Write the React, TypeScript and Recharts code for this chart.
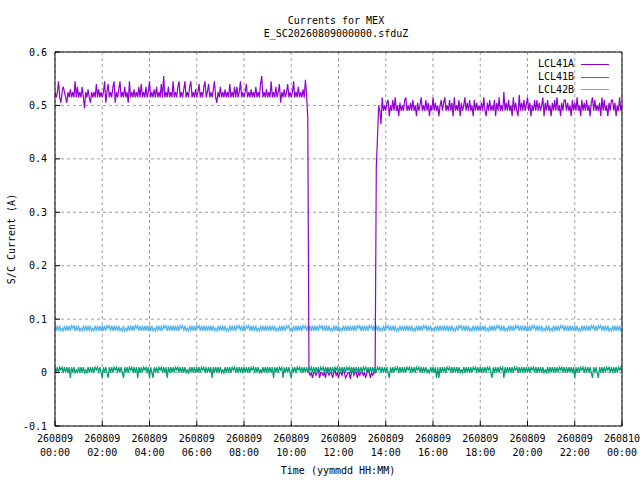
import React from "react";
import { LineChart, Line, XAxis, YAxis, CartesianGrid } from "recharts";

const FONT = '"DejaVu Sans Mono", monospace';

// one sample every 3 minutes, 00:00 .. 24:00 (20 per hour, 481 samples)
const SAMPLE_STEP_MIN = 3;

const hourTicks = [0, 2, 4, 6, 8, 10, 12, 14, 16, 18, 20, 22, 24];
const dateLabels = ["260809", "260809", "260809", "260809", "260809", "260809", "260809", "260809", "260809", "260809", "260809", "260809", "260810"];
const timeLabels = ["00:00", "02:00", "04:00", "06:00", "08:00", "10:00", "12:00", "14:00", "16:00", "18:00", "20:00", "22:00", "00:00"];
const currentTicks = [-0.1, 0, 0.1, 0.2, 0.3, 0.4, 0.5, 0.6];
const currentLabels = ["-0.1", "0", "0.1", "0.2", "0.3", "0.4", "0.5", "0.6"];

const lcl41a = [
  0.525, 0.515, 0.525, 0.545, 0.515, 0.505, 0.525, 0.535, 0.525, 0.515, 0.505, 0.525, 0.515, 0.53, 0.515, 0.525, 0.515, 0.545, 0.515, 0.535,
  0.515, 0.525, 0.515, 0.535, 0.515, 0.495, 0.525, 0.515, 0.53, 0.515, 0.505, 0.525, 0.515, 0.525, 0.515, 0.54, 0.515, 0.53, 0.515, 0.525,
  0.515, 0.525, 0.545, 0.505, 0.525, 0.54, 0.515, 0.525, 0.515, 0.535, 0.545, 0.505, 0.525, 0.515, 0.53, 0.545, 0.515, 0.525, 0.515, 0.535,
  0.515, 0.525, 0.505, 0.545, 0.515, 0.525, 0.515, 0.53, 0.515, 0.525, 0.515, 0.535, 0.515, 0.54, 0.515, 0.525, 0.515, 0.535, 0.515, 0.525,
  0.545, 0.515, 0.525, 0.515, 0.53, 0.515, 0.535, 0.515, 0.525, 0.515, 0.54, 0.515, 0.555, 0.515, 0.525, 0.515, 0.535, 0.515, 0.525, 0.515,
  0.545, 0.515, 0.525, 0.515, 0.535, 0.545, 0.515, 0.525, 0.515, 0.53, 0.545, 0.515, 0.525, 0.515, 0.535, 0.545, 0.515, 0.525, 0.515, 0.53,
  0.515, 0.525, 0.54, 0.515, 0.525, 0.515, 0.535, 0.545, 0.515, 0.525, 0.54, 0.515, 0.525, 0.515, 0.53, 0.545, 0.515, 0.505, 0.525, 0.515,
  0.535, 0.515, 0.525, 0.515, 0.53, 0.515, 0.525, 0.515, 0.54, 0.515, 0.525, 0.515, 0.535, 0.515, 0.535, 0.515, 0.525, 0.545, 0.515, 0.525,
  0.515, 0.525, 0.54, 0.515, 0.525, 0.515, 0.53, 0.515, 0.525, 0.515, 0.535, 0.515, 0.525, 0.515, 0.54, 0.555, 0.515, 0.525, 0.515, 0.53,
  0.515, 0.525, 0.515, 0.545, 0.515, 0.525, 0.515, 0.535, 0.515, 0.525, 0.54, 0.505, 0.525, 0.515, 0.53, 0.515, 0.525, 0.54, 0.515, 0.525,
  0.515, 0.525, 0.545, 0.515, 0.525, 0.515, 0.535, 0.515, 0.525, 0.515, 0.53, 0.515, 0.548, 0.52, 0.475, 0, -0.005, 0, -0.01, 0,
  0, -0.005, 0, 0.005, -0.01, 0, 0, -0.005, 0, -0.01, 0.005, 0, -0.005, 0, 0, -0.01, 0, 0.005, -0.005, 0,
  -0.01, 0, 0, -0.005, 0.005, 0, -0.01, -0.005, 0, 0, -0.012, 0, 0.005, -0.005, 0, 0, -0.01, 0, -0.005, 0,
  0, -0.005, 0, -0.01, 0, 0.005, 0, -0.01, 0, -0.005, 0, 0, 0.385, 0.44, 0.5, 0.49, 0.465, 0.515, 0.49, 0.5,
  0.49, 0.505, 0.51, 0.48, 0.5, 0.49, 0.51, 0.49, 0.515, 0.49, 0.5, 0.48, 0.505, 0.49, 0.5, 0.49, 0.51, 0.515, 0.49, 0.5,
  0.49, 0.505, 0.49, 0.51, 0.49, 0.5, 0.48, 0.505, 0.49, 0.5, 0.515, 0.49, 0.5, 0.49, 0.51, 0.49, 0.505, 0.48, 0.5, 0.49,
  0.515, 0.49, 0.505, 0.49, 0.5, 0.48, 0.5, 0.51, 0.49, 0.505, 0.515, 0.49, 0.5, 0.49, 0.51, 0.49, 0.505, 0.48, 0.515, 0.49,
  0.5, 0.49, 0.51, 0.48, 0.505, 0.49, 0.5, 0.515, 0.49, 0.505, 0.49, 0.51, 0.49, 0.5, 0.48, 0.51, 0.49, 0.505, 0.49, 0.5,
  0.49, 0.505, 0.49, 0.515, 0.49, 0.48, 0.505, 0.49, 0.51, 0.49, 0.5, 0.49, 0.51, 0.48, 0.505, 0.49, 0.515, 0.49, 0.5, 0.49,
  0.525, 0.49, 0.505, 0.49, 0.51, 0.49, 0.5, 0.48, 0.515, 0.49, 0.505, 0.49, 0.48, 0.52, 0.49, 0.505, 0.49, 0.51, 0.49, 0.5,
  0.515, 0.49, 0.505, 0.48, 0.5, 0.49, 0.51, 0.49, 0.51, 0.49, 0.505, 0.49, 0.5, 0.515, 0.48, 0.505, 0.49, 0.51, 0.49, 0.5,
  0.48, 0.505, 0.49, 0.51, 0.49, 0.515, 0.49, 0.5, 0.48, 0.505, 0.49, 0.51, 0.51, 0.49, 0.505, 0.49, 0.5, 0.48, 0.51, 0.49,
  0.505, 0.49, 0.515, 0.49, 0.5, 0.48, 0.51, 0.49, 0.505, 0.49, 0.51, 0.49, 0.5, 0.48, 0.505, 0.515, 0.49, 0.51, 0.49, 0.5,
  0.49, 0.505, 0.48, 0.515, 0.49, 0.51, 0.49, 0.5, 0.48, 0.505, 0.49, 0.51, 0.51, 0.49, 0.505, 0.48, 0.5, 0.49, 0.515, 0.49,
  0.5,
];

const lcl41b = [
  0.01, 0, 0.01, 0, 0.01, 0.005, 0.01, 0, 0.01, 0, 0.01, 0, 0.01, -0.01, 0.01, 0, 0.01, 0, 0.005, 0,
  0.01, 0, 0.01, 0, 0.01, 0, 0.005, 0, 0.01, 0, 0.01, 0, 0.01, 0, 0.01, 0.005, 0.01, 0, 0.01, 0,
  -0.01, 0.01, 0, 0.01, 0, -0.01, 0.01, 0, 0.01, 0, 0.01, 0.005, 0.01, 0, 0.01, 0, 0.01, 0, -0.01, 0.01,
  0, 0.01, 0, 0.01, 0.005, 0.01, 0, 0.01, 0, 0.01, -0.01, 0.01, 0, 0.01, 0, 0.01, 0.005, 0.01, 0, 0.01,
  -0.01, 0.01, 0, -0.01, 0.01, 0, 0.01, 0, 0.01, 0.005, 0.01, 0, 0.01, 0, 0.01, -0.01, 0.01, 0, 0.01, 0,
  0.01, 0, 0.01, 0.005, 0.01, 0, 0.01, 0, 0.01, 0, 0.01, 0, 0.005, 0, 0.01, 0, 0.01, 0, 0.01, 0,
  0.01, 0, 0.01, 0, 0.01, 0.005, 0.01, 0, 0.01, 0, 0.01, 0, 0.01, -0.01, 0.01, 0, 0.01, 0, 0.01, 0,
  0.01, 0, 0.005, 0, 0.01, 0, 0.01, 0, 0.01, 0, 0.01, 0.005, 0.01, 0, 0.01, 0, 0.01, 0, 0.01, 0,
  0.01, 0, 0.01, 0, 0.01, 0, 0.01, 0.005, 0.01, 0, 0.01, 0, 0.01, 0, 0.005, 0, 0.01, 0, 0.01, 0,
  0.01, 0, 0.01, 0, 0.01, -0.01, 0.01, 0, 0.01, 0, 0.01, 0.005, 0.01, -0.01, 0.01, 0, 0.01, 0, 0.01, 0,
  -0.01, 0.01, 0, 0.01, 0, 0.01, 0.005, 0.01, 0, 0.01, 0, 0.01, 0, 0.01, 0, 0.01, 0.005, 0.01, 0, 0.01,
  0, 0.01, 0, 0.01, 0, 0.01, 0.005, 0.01, 0, 0.01, 0, 0.01, 0, 0.01, 0, 0.01, 0, 0.01, 0.005, 0.01,
  0, 0.01, 0, 0.01, 0, 0.01, 0, 0.01, 0.005, 0.01, 0, 0.01, 0, 0.01, 0, 0.01, 0, 0.01, 0, 0.01,
  0, 0.01, 0.005, 0.01, 0, 0.01, 0, 0.01, 0, 0.01, 0, 0.01, 0, 0.01, 0.005, 0.01, 0, 0.01, 0, 0.01,
  0, 0.01, 0, -0.01, 0.01, 0, 0.01, 0, 0.01, 0.005, 0.01, 0, 0.01, 0, 0.01, 0, 0.01, 0, 0.01, 0.005,
  0.01, 0, 0.01, 0, 0.01, 0, 0.01, 0.005, 0.01, 0, 0.01, 0, 0.01, 0, 0.01, 0, 0.005, 0, 0.01, 0,
  0.01, 0, 0.01, -0.01, 0.01, -0.01, 0.01, 0, 0.01, 0, 0.01, 0, 0.01, 0.005, 0.01, 0, 0.01, 0, 0.01, 0,
  0.01, 0, 0.01, 0, 0.005, 0, 0.01, 0, 0.01, 0, 0.01, 0, 0.01, 0, 0.01, 0.005, 0.01, 0, 0.01, 0,
  0.01, 0, 0.01, 0, 0.01, 0, 0.01, 0.005, 0.01, 0, -0.01, 0.01, 0, 0.01, 0, 0.01, 0, 0.01, 0.005, 0.01,
  -0.01, 0.01, 0, 0.01, 0, 0.01, 0, 0.01, 0, 0.01, 0.005, 0.01, 0, 0.01, 0, 0.01, 0, 0.01, 0, 0.01,
  0, 0.01, 0, 0.01, 0.005, 0.01, 0, 0.01, 0, 0.01, 0, 0.01, 0, 0.01, 0, 0.005, 0, 0.01, 0, 0.01,
  0, 0.01, 0, 0.01, 0, 0.01, 0, 0.01, 0.005, 0.01, 0, 0.01, 0, 0.01, 0, 0.01, 0, 0.01, 0, 0.01,
  -0.01, 0.01, 0, 0.01, 0, 0.01, 0.005, 0.01, 0, 0.01, 0, 0.01, 0, 0.01, 0, -0.01, 0.01, 0, 0.01, 0,
  -0.01, 0.01, 0, 0.01, 0, 0.01, 0, 0.01, 0.005, 0.01, 0, 0.01, 0, 0.01, 0, 0.01, 0, 0.01, 0.005, 0.01,
  0,
];

const lcl42b = [
  0.088, 0.078, 0.088, 0.078, 0.088, 0.078, 0.083, 0.078, 0.088, 0.078, 0.088, 0.078, 0.088, 0.078, 0.088, 0.083, 0.088, 0.078, 0.088, 0.078,
  0.088, 0.078, 0.083, 0.078, 0.088, 0.078, 0.088, 0.078, 0.088, 0.078, 0.088, 0.078, 0.083, 0.078, 0.088, 0.078, 0.088, 0.078, 0.088, 0.078,
  0.088, 0.078, 0.088, 0.078, 0.088, 0.083, 0.088, 0.078, 0.088, 0.078, 0.088, 0.078, 0.088, 0.078, 0.088, 0.078, 0.083, 0.078, 0.088, 0.078,
  0.083, 0.078, 0.088, 0.078, 0.088, 0.078, 0.088, 0.078, 0.088, 0.083, 0.088, 0.078, 0.088, 0.078, 0.088, 0.078, 0.088, 0.078, 0.088, 0.078,
  0.088, 0.078, 0.088, 0.078, 0.083, 0.078, 0.088, 0.078, 0.088, 0.078, 0.088, 0.078, 0.088, 0.083, 0.088, 0.078, 0.088, 0.078, 0.088, 0.078,
  0.088, 0.078, 0.088, 0.078, 0.088, 0.078, 0.088, 0.083, 0.088, 0.078, 0.088, 0.078, 0.083, 0.078, 0.088, 0.078, 0.088, 0.078, 0.088, 0.078,
  0.088, 0.083, 0.088, 0.078, 0.088, 0.078, 0.088, 0.078, 0.088, 0.078, 0.088, 0.078, 0.088, 0.078, 0.088, 0.078, 0.083, 0.078, 0.088, 0.078,
  0.088, 0.078, 0.088, 0.078, 0.088, 0.078, 0.083, 0.078, 0.088, 0.078, 0.088, 0.078, 0.088, 0.078, 0.088, 0.083, 0.088, 0.078, 0.088, 0.078,
  0.088, 0.078, 0.088, 0.083, 0.088, 0.078, 0.088, 0.078, 0.088, 0.078, 0.088, 0.078, 0.083, 0.078, 0.088, 0.078, 0.088, 0.078, 0.088, 0.078,
  0.088, 0.078, 0.088, 0.078, 0.088, 0.078, 0.088, 0.078, 0.083, 0.078, 0.088, 0.078, 0.088, 0.078, 0.088, 0.078, 0.088, 0.083, 0.088, 0.078,
  0.083, 0.078, 0.088, 0.078, 0.088, 0.078, 0.088, 0.078, 0.088, 0.078, 0.088, 0.083, 0.088, 0.078, 0.088, 0.078, 0.088, 0.078, 0.088, 0.078,
  0.088, 0.078, 0.088, 0.078, 0.088, 0.083, 0.088, 0.078, 0.088, 0.078, 0.088, 0.078, 0.088, 0.078, 0.083, 0.078, 0.088, 0.078, 0.088, 0.078,
  0.088, 0.078, 0.083, 0.078, 0.088, 0.078, 0.088, 0.078, 0.088, 0.078, 0.088, 0.078, 0.088, 0.078, 0.088, 0.078, 0.088, 0.083, 0.088, 0.078,
  0.088, 0.078, 0.088, 0.078, 0.088, 0.078, 0.088, 0.083, 0.088, 0.078, 0.088, 0.078, 0.088, 0.078, 0.088, 0.078, 0.083, 0.078, 0.088, 0.078,
  0.088, 0.083, 0.088, 0.078, 0.088, 0.078, 0.088, 0.078, 0.088, 0.078, 0.083, 0.078, 0.088, 0.078, 0.088, 0.078, 0.088, 0.078, 0.088, 0.078,
  0.088, 0.078, 0.088, 0.078, 0.083, 0.078, 0.088, 0.078, 0.088, 0.078, 0.088, 0.078, 0.088, 0.083, 0.088, 0.078, 0.088, 0.078, 0.088, 0.078,
  0.083, 0.078, 0.088, 0.078, 0.088, 0.078, 0.088, 0.078, 0.088, 0.078, 0.088, 0.078, 0.088, 0.078, 0.088, 0.078, 0.088, 0.078, 0.083, 0.078,
  0.088, 0.078, 0.088, 0.083, 0.088, 0.078, 0.088, 0.078, 0.088, 0.078, 0.088, 0.078, 0.083, 0.078, 0.088, 0.078, 0.088, 0.078, 0.088, 0.078,
  0.088, 0.078, 0.088, 0.078, 0.088, 0.078, 0.083, 0.078, 0.088, 0.078, 0.088, 0.078, 0.088, 0.078, 0.088, 0.083, 0.088, 0.078, 0.088, 0.078,
  0.088, 0.078, 0.083, 0.078, 0.088, 0.078, 0.088, 0.078, 0.088, 0.078, 0.088, 0.083, 0.088, 0.078, 0.088, 0.078, 0.088, 0.078, 0.088, 0.078,
  0.088, 0.078, 0.088, 0.078, 0.088, 0.083, 0.088, 0.078, 0.088, 0.078, 0.088, 0.078, 0.088, 0.078, 0.083, 0.078, 0.088, 0.078, 0.088, 0.078,
  0.083, 0.078, 0.088, 0.078, 0.088, 0.078, 0.088, 0.078, 0.088, 0.083, 0.088, 0.078, 0.088, 0.078, 0.088, 0.078, 0.088, 0.078, 0.088, 0.078,
  0.088, 0.078, 0.088, 0.078, 0.083, 0.078, 0.088, 0.078, 0.088, 0.078, 0.088, 0.078, 0.088, 0.078, 0.088, 0.083, 0.088, 0.078, 0.088, 0.078,
  0.088, 0.083, 0.088, 0.078, 0.088, 0.078, 0.088, 0.078, 0.088, 0.078, 0.083, 0.078, 0.088, 0.078, 0.088, 0.078, 0.088, 0.078, 0.088, 0.078,
  0.083,
];

const series = [
  { key: "LCL41A", values: lcl41a, color: "#9400d3" },
  { key: "LCL41B", values: lcl41b, color: "#009e73" },
  { key: "LCL42B", values: lcl42b, color: "#56b4e9" },
];
// stacking seen in the picture: blue underneath, purple, green on top
const drawOrder = ["LCL42B", "LCL41A", "LCL41B"];

const data = lcl41a.map((_, i) => {
  const row: Record<string, number> = { t: (i * SAMPLE_STEP_MIN) / 60 };
  series.forEach((s) => (row[s.key] = s.values[i]));
  return row;
});

const txt = { fontFamily: FONT, fontSize: 10, fill: "#000" };

function TimeTick(props: any) {
  const { x, y, payload } = props;
  const i = hourTicks.indexOf(payload.value);
  return (
    <g>
      <text x={x} y={y + 16} textAnchor="middle" {...txt}>{dateLabels[i]}</text>
      <text x={x} y={y + 30} textAnchor="middle" {...txt}>{timeLabels[i]}</text>
    </g>
  );
}

function CurrentTick(props: any) {
  const { x, y, payload } = props;
  const i = currentTicks.indexOf(payload.value);
  return (
    <text x={x} y={y + 3.5} textAnchor="end" {...txt}>{currentLabels[i]}</text>
  );
}

const label: React.CSSProperties = {
  position: "absolute",
  fontFamily: FONT,
  fontSize: 10,
  lineHeight: "12px",
  color: "#000",
  whiteSpace: "nowrap",
};

export default function App() {
  return (
    <div style={{ position: "relative", width: 640, height: 480, background: "#fff" }}>
      <style>{"body{margin:0}"}</style>
      <LineChart width={640} height={480} data={data} margin={{ top: 0, right: 0, bottom: 0, left: 0 }}>
        <CartesianGrid stroke="#a0a0a0" strokeDasharray="3 3" />
        <XAxis
          dataKey="t"
          type="number"
          domain={[0, 24]}
          ticks={hourTicks}
          interval={0}
          height={54}
          allowDataOverflow
          axisLine={{ stroke: "#000" }}
          tickLine={{ stroke: "#000" }}
          tickSize={-5}
          tickMargin={5}
          tick={<TimeTick />}
        />
        <XAxis
          xAxisId="top"
          orientation="top"
          type="number"
          domain={[0, 24]}
          ticks={hourTicks}
          interval={0}
          height={52}
          allowDataOverflow
          axisLine={{ stroke: "#000" }}
          tickLine={{ stroke: "#000" }}
          tickSize={-5}
          tick={false}
        />
        <YAxis
          type="number"
          domain={[-0.1, 0.6]}
          ticks={currentTicks}
          interval={0}
          width={55}
          allowDataOverflow
          axisLine={{ stroke: "#000" }}
          tickLine={{ stroke: "#000" }}
          tickSize={-5}
          tickMargin={13}
          tick={<CurrentTick />}
        />
        <YAxis
          yAxisId="right"
          orientation="right"
          type="number"
          domain={[-0.1, 0.6]}
          ticks={currentTicks}
          interval={0}
          width={18}
          allowDataOverflow
          axisLine={{ stroke: "#000" }}
          tickLine={{ stroke: "#000" }}
          tickSize={-5}
          tick={false}
        />
        {drawOrder.map((k) => {
          const s = series.find((x) => x.key === k)!;
          return (
            <Line
              key={s.key}
              dataKey={s.key}
              type="linear"
              stroke={s.color}
              strokeWidth={1.2}
              dot={false}
              activeDot={false}
              isAnimationActive={false}
            />
          );
        })}
      </LineChart>

      <div style={{ ...label, left: 0, width: 672, top: 15, textAlign: "center" }}>Currents for MEX</div>
      <div style={{ ...label, left: 0, width: 672, top: 28, textAlign: "center" }}>E_SC20260809000000.sfduZ</div>
      <div style={{ ...label, left: 0, width: 676, top: 465, textAlign: "center" }}>Time (yymmdd HH:MM)</div>
      <div
        style={{
          ...label,
          left: 12,
          top: 239,
          transform: "translate(-50%, -50%) rotate(-90deg)",
        }}
      >
        S/C Current (A)
      </div>

      <div style={{ position: "absolute", left: 500, top: 58 }}>
        {series.map((s) => (
          <div key={s.key} style={{ display: "flex", alignItems: "center", height: 12.7 }}>
            <span style={{ ...label, position: "static", width: 74, textAlign: "right" }}>{s.key}</span>
            <span style={{ display: "inline-block", marginLeft: 7, width: 28, height: 1, background: s.color }} />
          </div>
        ))}
      </div>
    </div>
  );
}
